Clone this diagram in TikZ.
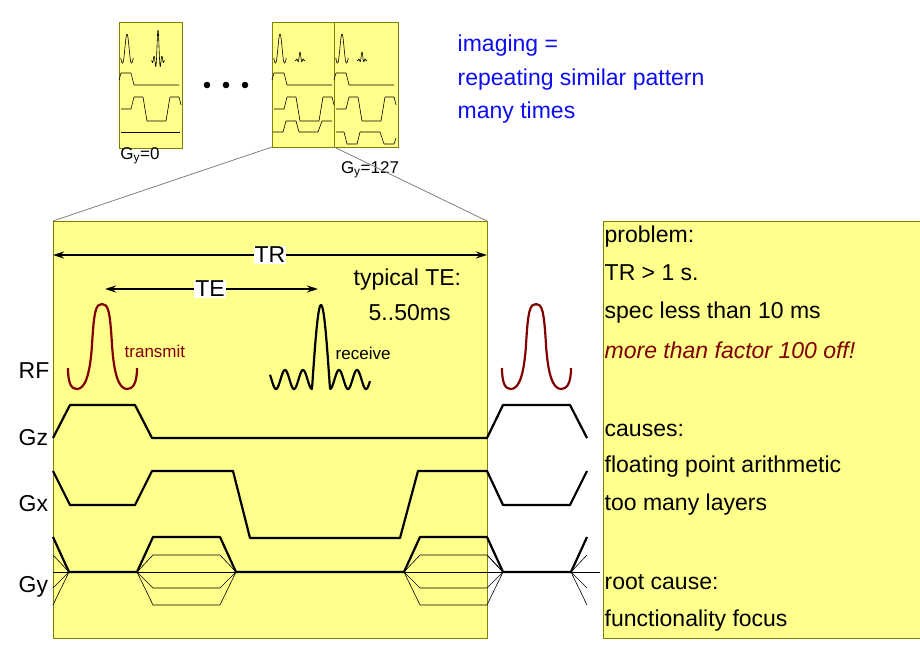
\documentclass[tikz,border=0pt]{standalone}
\usepackage{fontspec}
\setmainfont{Liberation Sans}
\usetikzlibrary{arrows.meta}
\definecolor{paleyel}{rgb}{1,1,0.55}
\definecolor{olive}{rgb}{0.5,0.5,0}
\definecolor{darkred}{rgb}{0.5,0,0}
\definecolor{txtblue}{rgb}{0.05,0.05,0.95}
\tikzset{
  panel/.style={draw=olive,fill=paleyel,line width=0.8pt},
  wave/.style={line width=2.2pt,line join=round},
  thin/.style={line width=0.6pt},
  mini/.style={line width=0.6pt,line join=round},
  big/.style={font=\fontsize{23}{26}\selectfont,anchor=west,inner sep=0.5pt},
  small/.style={font=\fontsize{17}{19}\selectfont,inner sep=0.5pt},
  dim/.style={line width=1.6pt,{Stealth[length=11pt,width=7pt]}-{Stealth[length=11pt,width=7pt]}}
}
\begin{document}
\begin{tikzpicture}[x=1pt,y=1pt,yscale=-1]
		\useasboundingbox (0,0) rectangle (920,660);

		% Thumbnails of repeated sequences
		\draw[panel] (119,22) rectangle (182,148);
		\draw[panel] (272,22) rectangle (334,147);
		\draw[panel] (334,22) rectangle (398,147);
		\foreach \xo in {119,272,334}{
			\begin{scope}[shift={(\xo,0)}]
				\draw[mini] plot[variable=\t,domain=-6.28:6.28,samples=40] ({8+\t}, {58-24*sin(\t r)/\t});
				\draw[mini] (0,80) -- (2,73) -- (12,73) -- (15,85) -- (60,85);
				\draw[mini] (2,109) -- (12,109) -- (15,97) -- (24,97) -- (28,121) -- (47,121) -- (51,97) -- (60,97) -- (62,105);
			\end{scope}
		}
		\draw[mini] plot[variable=\t,domain=-12.5:12.5,samples=80] ({158+0.5*\t}, {60-30*sin(\t r)/\t});
		\foreach \xo in {272,334}
			\draw[mini] plot[variable=\t,domain=-12.5:12.5,samples=80] ({\xo+28+0.4*\t}, {60-8*sin(\t r)/\t});
		\draw[mini] (121,132) -- (180,132);
		\draw[mini] (273,132) -- (283,132) -- (286,121) -- (296,121) -- (299,132) -- (318,132) -- (322,121) -- (332,121);
		\draw[mini] (336,132) -- (344,132) -- (347,144) -- (357,144) -- (360,132) -- (380,132) -- (384,144) -- (394,144) -- (396,138);
		\foreach \xd in {207,226,245}
			\fill (\xd,85) circle (3.3);
		\node[small] (gylow) at (140,156) {G\textsubscript{y}=0};
		\node[small] (gyhigh) at (370,170) {G\textsubscript{y}=127};

		% Zoom lines from thumbnail to detail
		\draw[gray,line width=0.8pt] (272,147) -- (53,221);
		\draw[gray,line width=0.8pt] (334,147) -- (487,221);

		% Explanation text
		\node[big,txtblue] (img1) at (457,46) {imaging =};
		\node[big,txtblue] (img2) at (457,80) {repeating similar pattern};
		\node[big,txtblue] (img3) at (457,113) {many times};

		% Detail panel
		\draw[panel] (53,221) rectangle (487,638);
		\draw[panel] (603,221) rectangle (921,638);

		% TR and TE
		\coordinate (trl) at (53,255);
		\coordinate (trr) at (487,255);
		\coordinate (tel) at (105,289);
		\coordinate (ter) at (318,289);
		\draw[dim] (trl) -- (trr);
		\draw[dim] (tel) -- (ter);
		\node[big,anchor=center,fill=white,inner sep=1pt] (tr) at (270,255) {TR};
		\node[big,anchor=center,fill=white,inner sep=1pt] (te) at (210,289) {TE};
		\node[big] (typte) at (353,280) {typical TE:};
		\node[big] (range) at (368,313) {5..50ms};

		% Axis labels
		\node[big] (rf) at (18,371) {RF};
		\node[big] (gz) at (18,438) {Gz};
		\node[big] (gx) at (18,504) {Gx};
		\node[big] (gy) at (18,587) {Gy};

		% RF pulses
		\foreach \xs in {0,434}
			\draw[wave,darkred,shift={(\xs,0)}] (68,368) .. controls (68,385) and (72,389) .. (77,389)
				.. controls (85,389) and (90,375) .. (92,345) .. controls (94,310) and (96,304) .. (102,304)
				.. controls (108,304) and (110,310) .. (112,345) .. controls (114,375) and (119,389) .. (127,389)
				.. controls (132,389) and (137,385) .. (137,368);
		\draw[wave] plot[variable=\t,domain=-51:49,samples=200] ({321+\t}, {(abs(\t)<9) ? (389-84*cos(10*\t)) : (379.5+9.5*cos((abs(\t)-9)*20))});
		\node[small,darkred,anchor=west] (tx) at (124,351) {transmit};
		\node[small,anchor=west] (rx) at (335,353) {receive};

		% Gradients
		\draw[wave] (53,438) -- (70,405) -- (135,405) -- (152,438) -- (487,438) -- (503,405) -- (570,405) -- (587,438);
		\draw[wave] (53,471) -- (70,505) -- (135,505) -- (152,471) -- (233,471) -- (250,538) -- (400,538) -- (418,471) -- (487,471) -- (503,505) -- (570,505) -- (587,471);
		\draw[thin] (53,572) -- (600,572);
		\draw[wave] (53,537) -- (69,572) -- (137,572) -- (153,537) -- (220,537) -- (236,572) -- (404,572) -- (420,537) -- (487,537) -- (503,572) -- (571,572) -- (587,537);
		\foreach \yg in {555,588,605}{
			\draw[thin] (53,\yg) -- (69,572);
			\draw[thin] (137,572) -- (153,\yg) -- (220,\yg) -- (236,572);
			\draw[thin] (404,572) -- (420,\yg) -- (487,\yg) -- (503,572);
			\draw[thin] (571,572) -- (587,\yg);
		}
		\draw[thin] (487,555) -- (503,572);

		% Analysis text
		\node[big] (p1) at (604,237) {problem:};
		\node[big] (p2) at (604,273) {TR > 1 s.};
		\node[big] (p3) at (604,313) {spec less than 10 ms};
		\node[big,darkred,font=\fontsize{23}{26}\selectfont\itshape] (p4) at (604,350) {more than factor 100 off!};
		\node[big] (c1) at (604,430) {causes:};
		\node[big] (c2) at (604,467) {floating point arithmetic};
		\node[big] (c3) at (604,505) {too many layers};
		\node[big] (r1) at (604,582) {root cause:};
		\node[big] (r2) at (604,621) {functionality focus};
\end{tikzpicture}
\end{document}
